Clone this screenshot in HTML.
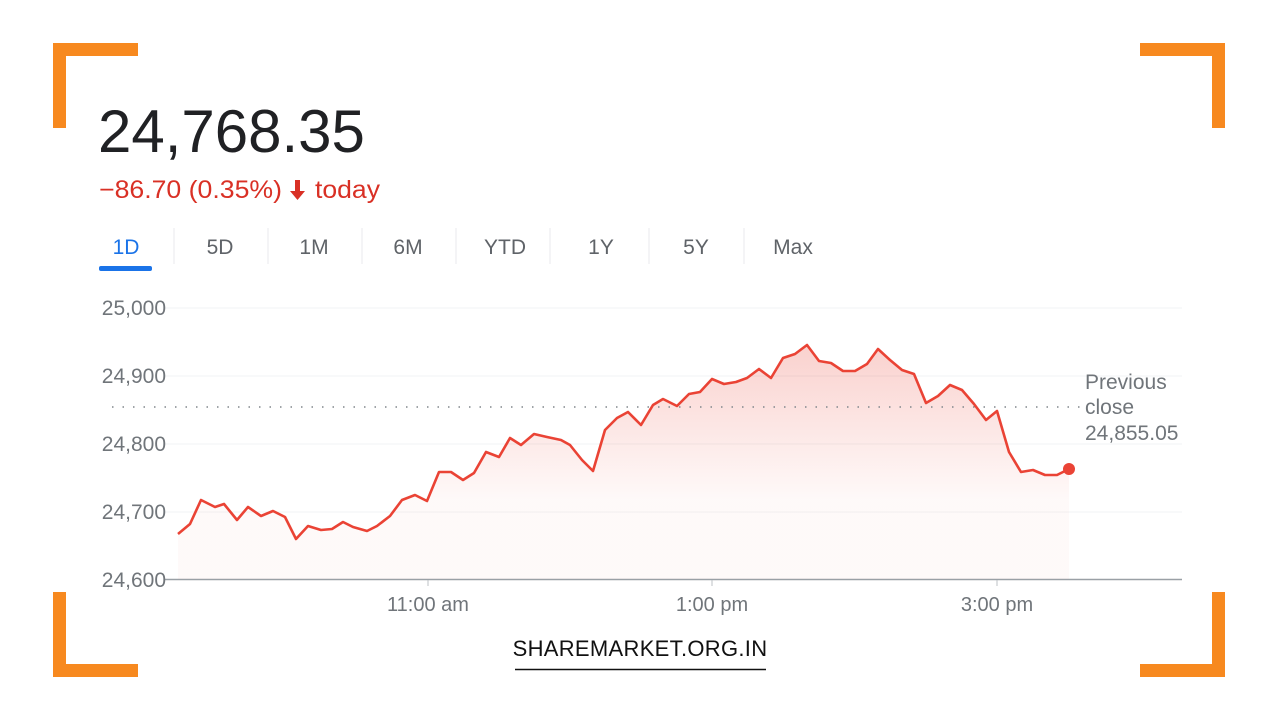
<!DOCTYPE html>
<html><head><meta charset="utf-8"><style>
body{margin:0;width:1280px;height:720px;background:#fff;position:relative;overflow:hidden;font-family:"Liberation Sans",Arial,sans-serif}
.b{position:absolute;background:#f7891f}
.t{position:absolute;white-space:nowrap}
</style></head><body>
<div class="b" style="left:53px;top:43px;width:85px;height:13px"></div>
<div class="b" style="left:53px;top:43px;width:13px;height:85px"></div>
<div class="b" style="left:1140px;top:43px;width:85px;height:13px"></div>
<div class="b" style="left:1212px;top:43px;width:13px;height:85px"></div>
<div class="b" style="left:53px;top:664px;width:85px;height:13px"></div>
<div class="b" style="left:53px;top:592px;width:13px;height:85px"></div>
<div class="b" style="left:1140px;top:664px;width:85px;height:13px"></div>
<div class="b" style="left:1212px;top:592px;width:13px;height:85px"></div>

<div class="t" style="left:98px;top:97px;font-size:60px;color:#202124">24,768.35</div>

<svg width="1280" height="720" style="position:absolute;left:0;top:0">
<defs><linearGradient id="g" x1="0" y1="340" x2="0" y2="500" gradientUnits="userSpaceOnUse">
<stop offset="0" stop-color="#ea4335" stop-opacity="0.25"/><stop offset="1" stop-color="#ea4335" stop-opacity="0.03"/></linearGradient></defs>
<g font-family="Liberation Sans, Arial, sans-serif" font-size="25" fill="#d93025">
<text x="99" y="198" textLength="183" lengthAdjust="spacingAndGlyphs">−86.70 (0.35%)</text><text x="315" y="198" textLength="65" lengthAdjust="spacingAndGlyphs">today</text></g>
<path d="M295,180 h5 v11 h5 l-7.5,9 l-7.5,-9 h5 z" fill="#d93025"/>
<g font-family="Liberation Sans, Arial, sans-serif" font-size="21" fill="#5f6368" text-anchor="middle">
<text x="126" y="254" fill="#1a73e8">1D</text><text x="220" y="254">5D</text><text x="314" y="254">1M</text><text x="408" y="254">6M</text><text x="505" y="254">YTD</text><text x="601" y="254">1Y</text><text x="696" y="254">5Y</text><text x="793" y="254">Max</text>
</g>
<rect x="99" y="266" width="53" height="5" rx="2" fill="#1a73e8"/>
<g stroke="#e8eaed" stroke-width="1"><line x1="174" y1="228" x2="174" y2="264"/><line x1="268" y1="228" x2="268" y2="264"/><line x1="362" y1="228" x2="362" y2="264"/><line x1="456" y1="228" x2="456" y2="264"/><line x1="550" y1="228" x2="550" y2="264"/><line x1="649" y1="228" x2="649" y2="264"/><line x1="744" y1="228" x2="744" y2="264"/></g>
<g stroke="#f1f3f4" stroke-width="1"><line x1="165" y1="308" x2="1182" y2="308"/><line x1="165" y1="376" x2="1182" y2="376"/><line x1="165" y1="444" x2="1182" y2="444"/><line x1="165" y1="512" x2="1182" y2="512"/></g>
<line x1="165" y1="579.5" x2="1182" y2="579.5" stroke="#9aa0a6" stroke-width="1.5"/>
<g stroke="#bdc1c6"><line x1="428" y1="580" x2="428" y2="586"/><line x1="712" y1="580" x2="712" y2="586"/><line x1="997" y1="580" x2="997" y2="586"/></g>
<g font-family="Liberation Sans, Arial, sans-serif" font-size="21" fill="#70757a" text-anchor="end">
<text x="166" y="315">25,000</text><text x="166" y="383">24,900</text><text x="166" y="451">24,800</text><text x="166" y="519">24,700</text><text x="166" y="587">24,600</text></g>
<g font-family="Liberation Sans, Arial, sans-serif" font-size="20" fill="#70757a" text-anchor="middle">
<text x="428" y="611">11:00 am</text><text x="712" y="611">1:00 pm</text><text x="997" y="611">3:00 pm</text></g>
<g font-family="Liberation Sans, Arial, sans-serif" font-size="21" fill="#70757a">
<text x="1085" y="389">Previous</text><text x="1085" y="414">close</text><text x="1085" y="440">24,855.05</text></g>
<polygon fill="url(#g)" points="178,534 190,524 201,500 215,507 224,504 237,520 248,507 261,516 273,511 285,517 296,539 308,526 321,530 332,529 343,522 353,527 367,531 377,526 390,516 402,500 415,495 427,501 439,472 451,472 463,480 474,473 486,452 499,457 510,438 521,445 534,434 547,437 561,440 570,445 582,460 593,471 605,430 617,418 628,412 641,425 653,405 663,399 677,406 689,394 700,392 712,379 724,384 736,382 747,378 759,369 771,378 783,358 795,354 807,345 819,361 831,363 843,371 855,371 867,364 878,349 890,360 902,370 914,374 926,403 938,396 950,385 962,390 974,404 986,420 997,411 1009,452 1021,472 1033,470 1045,475 1057,475 1069,469 1069,579 178,579"/>
<line x1="112" y1="407" x2="1080" y2="407" stroke="#80868b" stroke-width="1.5" stroke-dasharray="1.5 9"/>
<polyline fill="none" stroke="#ea4335" stroke-width="2.6" stroke-linejoin="round" points="178,534 190,524 201,500 215,507 224,504 237,520 248,507 261,516 273,511 285,517 296,539 308,526 321,530 332,529 343,522 353,527 367,531 377,526 390,516 402,500 415,495 427,501 439,472 451,472 463,480 474,473 486,452 499,457 510,438 521,445 534,434 547,437 561,440 570,445 582,460 593,471 605,430 617,418 628,412 641,425 653,405 663,399 677,406 689,394 700,392 712,379 724,384 736,382 747,378 759,369 771,378 783,358 795,354 807,345 819,361 831,363 843,371 855,371 867,364 878,349 890,360 902,370 914,374 926,403 938,396 950,385 962,390 974,404 986,420 997,411 1009,452 1021,472 1033,470 1045,475 1057,475 1069,469"/>
<circle cx="1069" cy="469" r="6" fill="#ea4335"/>
<text x="640" y="656" text-anchor="middle" font-family="Liberation Sans, Arial, sans-serif" font-size="22" fill="#111" letter-spacing="0.3">SHAREMARKET.ORG.IN</text>
<line x1="515" y1="669.5" x2="766" y2="669.5" stroke="#111" stroke-width="1.5"/>
</svg>
</body></html>
